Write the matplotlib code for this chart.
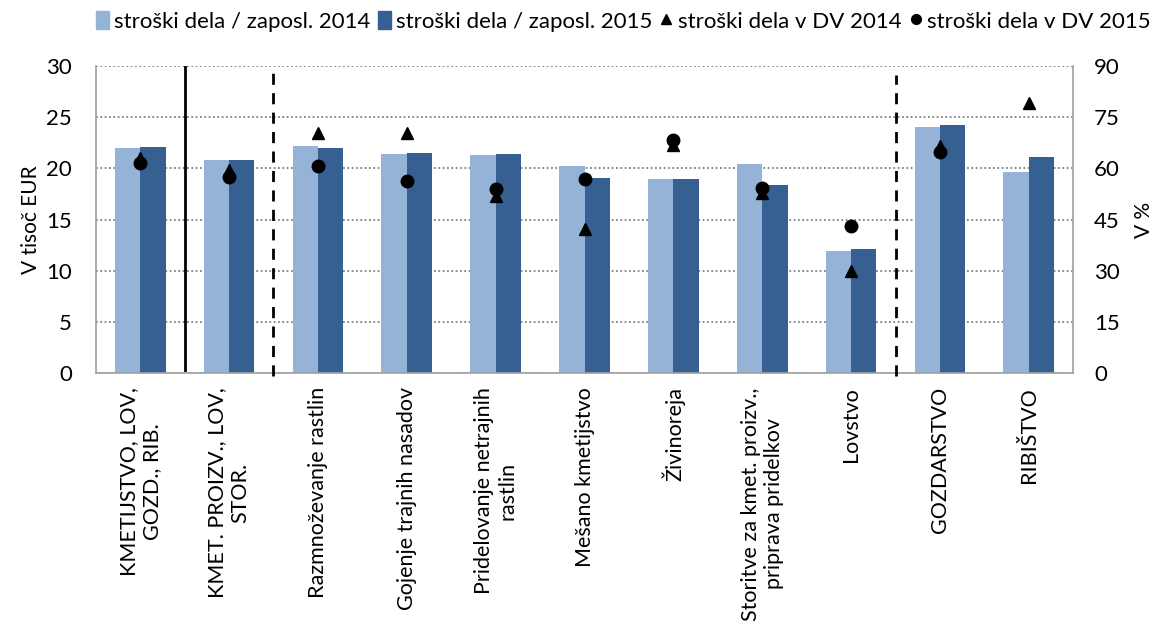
import matplotlib
matplotlib.use("Agg")
import matplotlib.pyplot as plt
import numpy as np
from matplotlib.lines import Line2D
from matplotlib.patches import Patch

plt.rcParams['font.family'] = ['Lato', 'DejaVu Sans']

# podatki
kategorije = ["KMETIJSTVO, LOV,\nGOZD., RIB.", "KMET. PROIZV., LOV,\nSTOR.",
              "Razmnoževanje rastlin", "Gojenje trajnih nasadov",
              "Pridelovanje netrajnih\nrastlin", "Mešano kmetijstvo", "Živinoreja",
              "Storitve za kmet. proizv.,\npriprava pridelkov", "Lovstvo",
              "GOZDARSTVO", "RIBIŠTVO"]
stroski_2014 = [22.0, 20.8, 22.2, 21.4, 21.3, 20.2, 19.0, 20.4, 11.9, 24.0, 19.6]
stroski_2015 = [22.1, 20.8, 22.0, 21.5, 21.4, 19.1, 19.0, 18.4, 12.1, 24.2, 21.1]
dv_2014 = [63.0, 59.5, 70.4, 70.4, 52.0, 42.2, 66.8, 52.9, 30.0, 66.5, 79.2]
dv_2015 = [61.6, 57.5, 60.7, 56.2, 53.8, 57.0, 68.4, 54.1, 43.2, 64.8, np.nan]

svetla = "#95b3d7"
temna = "#376092"

x = np.arange(len(kategorije))
w = 0.286

fig = plt.figure(figsize=(11.54, 6.3), dpi=100)
ax = fig.add_axes([0.083, 0.4075, 0.847, 0.488])

ax.bar(x - w/2, stroski_2014, w, color=svetla, zorder=2)
ax.bar(x + w/2, stroski_2015, w, color=temna, zorder=2)

ax.set_xlim(-0.5, len(kategorije) - 0.5)
ax.set_ylim(0, 30)
ax.set_yticks(range(0, 31, 5))
ax.yaxis.grid(True, linestyle=(0, (1, 1.4)), color="#808080", linewidth=1.3, zorder=0)
ax.set_axisbelow(True)
for s in ["left", "bottom", "right"]:
    ax.spines[s].set_color("#a0a0a0")
    ax.spines[s].set_linewidth(1.2)
ax.spines["top"].set_visible(False)

ax.set_xticks(x)
ax.set_xticklabels(kategorije, rotation=90, ha="center", va="top",
                   multialignment="center", fontsize=15.5)
ax.tick_params(axis="x", length=0, pad=10)
ax.tick_params(axis="y", length=0, pad=17, labelsize=16)
ax.set_ylabel("V tisoč EUR", fontsize=15, labelpad=4)

# ločilne črte
ax.axvline(0.5, ymin=0.01, ymax=1, color="black", linewidth=2, zorder=3)
ax.axvline(1.5, ymin=-0.01, ymax=1, color="black", linewidth=2,
           linestyle=(0, (4, 3)), zorder=3, clip_on=False)
ax.axvline(8.5, ymin=-0.01, ymax=0.97, color="black", linewidth=2,
           linestyle=(0, (4, 3)), zorder=3, clip_on=False)

ax2 = ax.twinx()
ax2.set_ylim(0, 90)
ax2.set_yticks(range(0, 91, 15))
ax2.plot(x, dv_2014, linestyle="none", marker="^", color="black", markersize=8, zorder=4)
ax2.plot(x, dv_2015, linestyle="none", marker="o", color="black", markersize=9, zorder=5)
ax2.tick_params(axis="y", length=0, pad=15, labelsize=16)
ax2.set_ylabel("V %", fontsize=15, labelpad=10)
for s in ax2.spines.values():
    s.set_visible(False)

handles = [Patch(color=svetla), Patch(color=temna),
           Line2D([], [], linestyle="none", marker="^", color="black", markersize=7),
           Line2D([], [], linestyle="none", marker="o", color="black", markersize=7)]
labels = ["stroški dela / zaposl. 2014", "stroški dela / zaposl. 2015",
          "stroški dela v DV 2014", "stroški dela v DV 2015"]
fig.legend(handles, labels, loc="center", bbox_to_anchor=(0.54, 0.966), ncol=4,
           frameon=False, fontsize=16, handlelength=0.6, handleheight=0.9,
           handletextpad=0.2, columnspacing=0.35, borderaxespad=0)

fig.savefig("out.png", dpi=100)
